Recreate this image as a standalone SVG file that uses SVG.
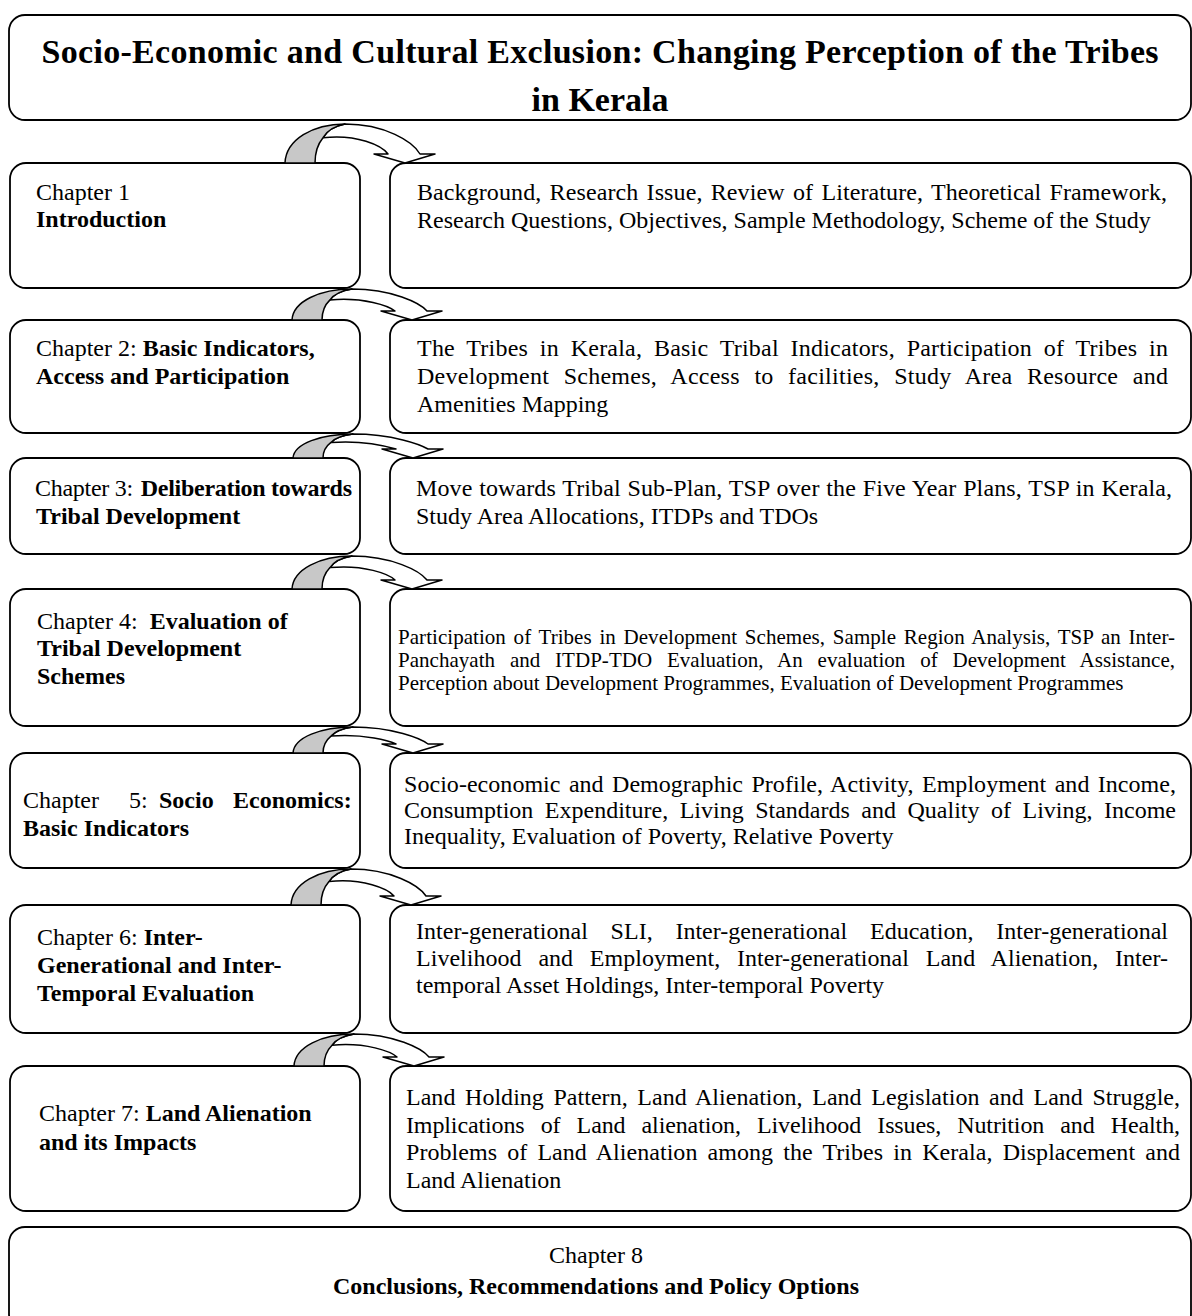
<svg xmlns="http://www.w3.org/2000/svg" width="1192" height="1316" viewBox="0 0 1192 1316">
<style>
.box{fill:#fff;stroke:#000;stroke-width:1.8}
text{font-family:"Liberation Serif","Times New Roman",serif;font-size:24px;fill:#000}
.b{font-weight:bold}
.s{font-size:21px}
.ti{font-size:34px;font-weight:bold}
.c{text-anchor:middle}
.ag{fill:#c8c8c8;stroke:#000;stroke-width:1.5;stroke-linejoin:round}
.aw{fill:#fff;stroke:#000;stroke-width:1.5;stroke-linejoin:round}
</style>
<rect width="1192" height="1316" fill="#fff"/>

<g id="title">
<rect class="box" x="9" y="15" width="1182" height="105" rx="16"/>
<text class="ti c" x="600" y="63" textLength="1117">Socio-Economic and Cultural Exclusion: Changing Perception of the Tribes</text>
<text class="ti c" x="600" y="111">in Kerala</text>
</g>

<g id="ch1">
<rect class="box" x="10" y="163" width="350" height="125" rx="16"/>
<text x="36" y="200">Chapter 1</text>
<text class="b" x="36" y="227">Introduction</text>
</g>
<g id="ch1-topics">
<rect class="box" x="390" y="163" width="801" height="125" rx="16"/>
<text x="417" y="200" word-spacing="2.2" textLength="750">Background, Research Issue, Review of Literature, Theoretical Framework,</text>
<text x="417" y="228">Research Questions, Objectives, Sample Methodology, Scheme of the Study</text>
</g>

<g id="ch2">
<rect class="box" x="10" y="320" width="350" height="113" rx="16"/>
<text x="36" y="356">Chapter 2: <tspan class="b">Basic Indicators,</tspan></text>
<text class="b" x="36" y="384">Access and Participation</text>
</g>
<g id="ch2-topics">
<rect class="box" x="390" y="320" width="801" height="113" rx="16"/>
<text x="417" y="356" word-spacing="5.6" textLength="751">The Tribes in Kerala, Basic Tribal Indicators, Participation of Tribes in</text>
<text x="417" y="384" word-spacing="8.3" textLength="751">Development Schemes, Access to facilities, Study Area Resource and</text>
<text x="417" y="412">Amenities Mapping</text>
</g>

<g id="ch3">
<rect class="box" x="10" y="458" width="350" height="96" rx="16"/>
<text x="35" y="496" textLength="317">Chapter 3:<tspan class="b" dx="8">Deliberation towards</tspan></text>
<text class="b" x="36" y="524">Tribal Development</text>
</g>
<g id="ch3-topics">
<rect class="box" x="390" y="458" width="801" height="96" rx="16"/>
<text x="416" y="496" word-spacing="0.7" textLength="756">Move towards Tribal Sub-Plan, TSP over the Five Year Plans, TSP in Kerala,</text>
<text x="416" y="524">Study Area Allocations, ITDPs and TDOs</text>
</g>

<g id="ch4">
<rect class="box" x="10" y="589" width="350" height="137" rx="16"/>
<text x="37" y="629">Chapter 4:<tspan class="b" dx="12">Evaluation of</tspan></text>
<text class="b" x="37" y="656">Tribal Development</text>
<text class="b" x="37" y="684">Schemes</text>
</g>
<g id="ch4-topics">
<rect class="box" x="390" y="589" width="801" height="137" rx="16"/>
<text class="s" x="398" y="644" word-spacing="2.4" textLength="777">Participation of Tribes in Development Schemes, Sample Region Analysis, TSP an Inter-</text>
<text class="s" x="398" y="667" word-spacing="9.5" textLength="777">Panchayath and ITDP-TDO Evaluation, An evaluation of Development Assistance,</text>
<text class="s" x="398" y="690">Perception about Development Programmes, Evaluation of Development Programmes</text>
</g>

<g id="ch5">
<rect class="box" x="10" y="753" width="350" height="115" rx="16"/>
<text y="808"><tspan x="23">Chapter</tspan><tspan x="129">5:</tspan><tspan class="b" x="159">Socio</tspan><tspan class="b" x="233">Economics:</tspan></text>
<text class="b" x="23" y="836">Basic Indicators</text>
</g>
<g id="ch5-topics">
<rect class="box" x="390" y="753" width="801" height="115" rx="16"/>
<text x="404" y="792" word-spacing="2.3" textLength="772">Socio-economic and Demographic Profile, Activity, Employment and Income,</text>
<text x="404" y="818" word-spacing="5.5" textLength="772">Consumption Expenditure, Living Standards and Quality of Living, Income</text>
<text x="404" y="844">Inequality, Evaluation of Poverty, Relative Poverty</text>
</g>

<g id="ch6">
<rect class="box" x="10" y="905" width="350" height="128" rx="16"/>
<text x="37" y="945">Chapter 6: <tspan class="b">Inter-</tspan></text>
<text class="b" x="37" y="973">Generational and Inter-</text>
<text class="b" x="37" y="1001">Temporal Evaluation</text>
</g>
<g id="ch6-topics">
<rect class="box" x="390" y="905" width="801" height="128" rx="16"/>
<text x="416" y="939" word-spacing="16.7" textLength="752">Inter-generational SLI, Inter-generational Education, Inter-generational</text>
<text x="416" y="966" word-spacing="10.7" textLength="752">Livelihood and Employment, Inter-generational Land Alienation, Inter-</text>
<text x="416" y="993">temporal Asset Holdings, Inter-temporal Poverty</text>
</g>

<g id="ch7">
<rect class="box" x="10" y="1066" width="350" height="145" rx="16"/>
<text x="39" y="1121">Chapter 7: <tspan class="b">Land Alienation</tspan></text>
<text class="b" x="39" y="1150">and its Impacts</text>
</g>
<g id="ch7-topics">
<rect class="box" x="390" y="1066" width="801" height="145" rx="16"/>
<text x="406" y="1105" word-spacing="3.6" textLength="774">Land Holding Pattern, Land Alienation, Land Legislation and Land Struggle,</text>
<text x="406" y="1133" word-spacing="10.3" textLength="774">Implications of Land alienation, Livelihood Issues, Nutrition and Health,</text>
<text x="406" y="1160" word-spacing="4.1" textLength="774">Problems of Land Alienation among the Tribes in Kerala, Displacement and</text>
<text x="406" y="1188">Land Alienation</text>
</g>

<g id="ch8">
<rect class="box" x="9" y="1227" width="1182" height="103" rx="16"/>
<text class="c" x="596" y="1263">Chapter 8</text>
<text class="b c" x="596" y="1294">Conclusions, Recommendations and Policy Options</text>
</g>

<g id="connectors">
<path class="aw" d="M345,124 C385,124 413,141.6 420,154 L435,154 L405,163 L374,154 L388,154 C382,145.5 357,133.8 323,137.7 Q329,127.1 345,124 Z"/>
<path class="ag" d="M285,163 C286,139.6 313,124 345,124 Q329,127.1 323,137.7 Q315,147.4 315,163 Z"/>

<path class="aw" d="M352,289 C392,289 420,303 427,311 L442,311 L412,320 L381,311 L395,311 C389,306 364,296.8 330,299.9 Q336,291.5 352,289 Z"/>
<path class="ag" d="M292,320 C293,301.4 320,289 352,289 Q336,291.5 330,299.9 Q322,307.6 322,320 Z"/>

<path class="aw" d="M353,434 C393,434 421,444.8 428,449 L443,449 L413,458 L382,449 L396,449 C390,447.2 365,440 331,442.4 Q337,435.9 353,434 Z"/>
<path class="ag" d="M293,458 C294,443.6 321,434 353,434 Q337,435.9 331,442.4 Q323,448.4 323,458 Z"/>

<path class="aw" d="M352,556 C392,556 420,570.9 427,580 L442,580 L412,589 L381,580 L395,580 C389,574.2 364,564.3 330,567.6 Q336,558.6 352,556 Z"/>
<path class="ag" d="M292,589 C293,569.2 320,556 352,556 Q336,558.6 330,567.6 Q322,575.8 322,589 Z"/>

<path class="aw" d="M353,727 C393,727 421,738.7 428,744 L443,744 L413,753 L382,744 L396,744 C390,741.3 365,733.5 331,736.1 Q337,729.1 353,727 Z"/>
<path class="ag" d="M293,753 C294,737.4 321,727 353,727 Q337,729.1 331,736.1 Q323,742.6 323,753 Z"/>

<path class="aw" d="M351,869 C391,869 419,885.2 426,896 L441,896 L411,905 L380,896 L394,896 C388,888.8 363,878 329,881.6 Q335,871.9 351,869 Z"/>
<path class="ag" d="M291,905 C292,883.4 319,869 351,869 Q335,871.9 329,881.6 Q321,890.6 321,905 Z"/>

<path class="aw" d="M354,1034 C394,1034 422,1048.4 429,1057 L444,1057 L414,1066 L383,1057 L397,1057 C391,1051.6 366,1042 332,1045.2 Q338,1036.6 354,1034 Z"/>
<path class="ag" d="M294,1066 C295,1046.8 322,1034 354,1034 Q338,1036.6 332,1045.2 Q324,1053.2 324,1066 Z"/>
</g>
</svg>
